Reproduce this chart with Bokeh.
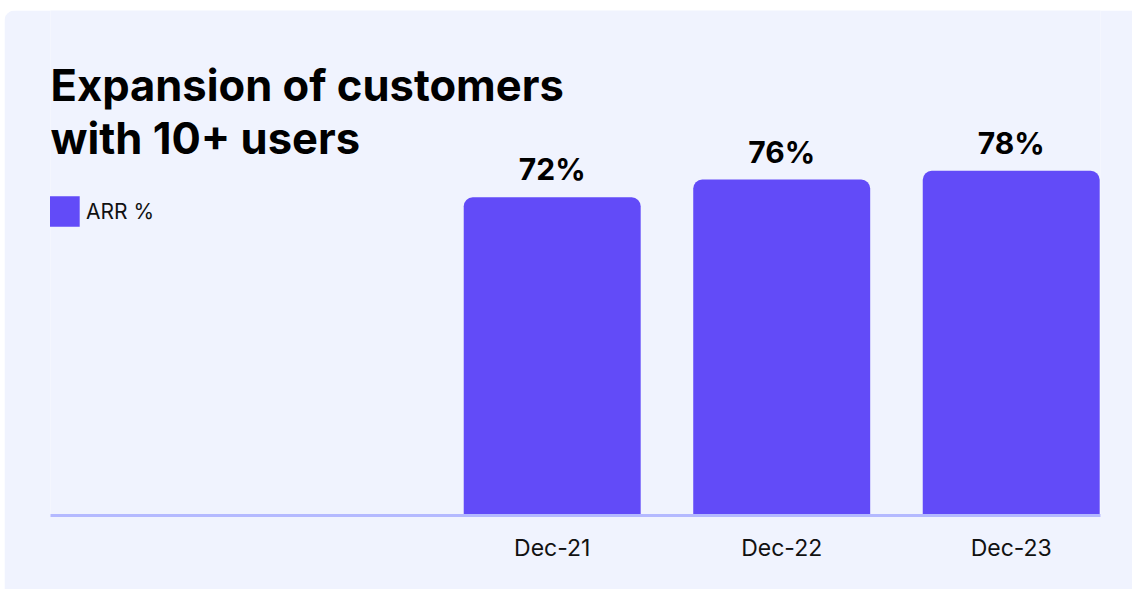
from bokeh.plotting import figure
from bokeh.models import ColumnDataSource, Range1d, FixedTicker, Label, Legend, LegendItem
from bokeh.core.properties import value
from bokeh.transform import dodge
from bokeh.embed import file_html
from bokeh.resources import INLINE

# ---- data ----
categories = ["Dec-21", "Dec-22", "Dec-23"]
arr_pct = [72, 76, 78]
value_labels = [f"{v}%" for v in arr_pct]
title_lines = ["Expansion of customers", "with 10+ users"]
series_name = "ARR %"

# ---- style ----
PANEL = "#F0F3FE"
BAR = "#624BF8"
BASE = "#B4B9FF"
FONT = "Inter"
PX_PER_UNIT = 4.42

xs = list(range(len(categories)))
src = ColumnDataSource(dict(x=xs, top=arr_pct, label=value_labels, cat=categories))

p = figure(width=1128, height=579, output_backend="svg", toolbar_location=None,
           x_range=Range1d(-2.186, 2.389), y_range=Range1d(0, 505 / PX_PER_UNIT),
           min_border_left=46, min_border_right=32, min_border_top=0, min_border_bottom=74,
           margin=(10, 0, 0, 4),
           styles={"border-radius": "12px 0 0 0", "overflow": "hidden"})
p.background_fill_color = PANEL
p.border_fill_color = PANEL
p.outline_line_color = None
p.grid.visible = False
p.yaxis.visible = False

bars = p.vbar(x="x", top="top", bottom=0, width=0.771, source=src,
              fill_color=BAR, line_color=None, border_radius=(9, 9, 0, 0))

p.text(x="x", y=dodge("top", 28 / PX_PER_UNIT, range=p.y_range), text="label", source=src,
       text_align="center", text_baseline="alphabetic",
       text_font=value(FONT), text_font_style="bold", text_font_size="30px",
       text_color="#000000")

xa = p.xaxis[0]
xa.ticker = FixedTicker(ticks=xs)
xa.major_label_overrides = {x: c for x, c in zip(xs, categories)}
xa.axis_line_color = BASE
xa.axis_line_width = 3
xa.major_tick_line_color = None
xa.minor_tick_line_color = None
xa.major_label_standoff = 12
xa.major_label_text_font = FONT
xa.major_label_text_font_size = "23px"
xa.major_label_text_color = "#111111"

for i, line in enumerate(title_lines):
    p.add_layout(Label(x=0, y=431 - 53 * i, x_units="screen", y_units="screen",
                       text=line, text_font=FONT, text_font_style="bold",
                       text_font_size="43.5px", text_color="#000000",
                       text_baseline="alphabetic"))

legend = Legend(items=[LegendItem(label=series_name, renderers=[bars])],
                location=(-5, 285), orientation="vertical",
                glyph_width=38, glyph_height=38, label_standoff=3,
                label_text_font=FONT, label_text_font_size="21px",
                label_text_color="#111111",
                background_fill_alpha=0, border_line_color=None,
                padding=0, margin=0, spacing=0)
p.add_layout(legend)

open("out.html", "w").write(file_html(p, INLINE))
